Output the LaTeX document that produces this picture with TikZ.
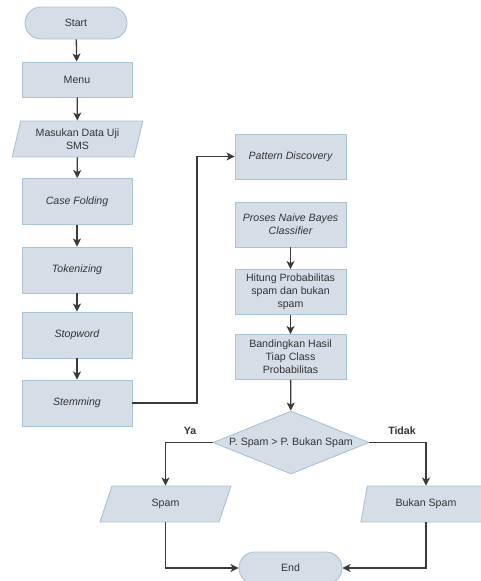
\documentclass[tikz,border=0pt]{standalone}
\usepackage{fontspec}
\setmainfont{Liberation Sans}
\usetikzlibrary{shapes.geometric,shapes.misc,arrows.meta}
\definecolor{boxfill}{HTML}{D5DEE7}
\definecolor{boxline}{HTML}{A9C2D6}
\definecolor{txt}{HTML}{333333}
\definecolor{wire}{HTML}{3A3A3A}
\begin{document}
\begin{tikzpicture}[x=1pt,y=-1pt,
  every node/.style={font=\fontsize{10.6}{13}\selectfont, text=txt, align=center, inner sep=1pt},
  base/.style={draw=boxline, fill=boxfill, line width=0.9pt},
  term/.style={base, rounded rectangle, minimum width=104, minimum height=32},
  proc/.style={base, rectangle, minimum width=110, minimum height=46},
  rproc/.style={base, rectangle, minimum width=111, minimum height=45},
  iobox/.style={base, trapezium, trapezium left angle=74, trapezium right angle=106, trapezium stretches=true, minimum width=131, minimum height=36},
  decision/.style={base, diamond, minimum width=156, minimum height=63, inner sep=0pt},
  flow/.style={draw=wire, line width=1.3pt, -{Stealth[length=8pt,width=8pt,inset=2pt]}},
  lbl/.style={font=\fontsize{10.6}{13}\selectfont\bfseries}
]
\useasboundingbox (0,0) rectangle (481,581);
\node[term] (start) at (76,23) {Start};
\node[proc, minimum height=35] (menu) at (77,79.5) {Menu};
\node[iobox] (input) at (77.5,139) {Masukan Data Uji\\SMS};
\node[proc] (cf) at (77,201.5) {\itshape Case Folding};
\node[proc] (tok) at (77,270) {\itshape Tokenizing};
\node[proc] (stop) at (77,335) {\itshape Stopword};
\node[proc] (stem) at (77,403) {\itshape Stemming};
\node[rproc] (pat) at (290.5,156.5) {\itshape Pattern Discovery};
\node[rproc] (nb) at (290.5,224.5) {\itshape Proses Naive Bayes\\\itshape Classifier};
\node[rproc] (hit) at (290.5,292) {Hitung Probabilitas\\spam dan bukan\\spam};
\node[rproc] (band) at (290.5,357) {Bandingkan Hasil\\Tiap Class\\Probabilitas};
\node[decision, label={center:P. Spam > P. Bukan Spam}] (dec) at (291,442.5) {};
\node[iobox] (spam) at (165.5,504) {Spam};
\node[iobox] (bukan) at (426,504) {Bukan Spam};
\node[term, minimum width=105] (end) at (290.5,568) {End};
\coordinate (turn) at (197,403);

\draw[flow] (start) -- (menu);
\draw[flow] (menu) -- (input);
\draw[flow] (input) -- (cf);
\draw[flow] (cf) -- (tok);
\draw[flow] (tok) -- (stop);
\draw[flow] (stop) -- (stem);
\draw[flow] (stem.east) -- (turn) |- (pat.west);
\draw[flow] (nb) -- (hit);
\draw[flow] (hit) -- (band);
\draw[flow] (band) -- (dec);
\draw[flow] (dec.west) -| (spam.north);
\draw[flow] (dec.east) -| (bukan.north);
\node[lbl] (ya) at (190,431) {Ya};
\node[lbl] (tidak) at (402,431) {Tidak};
\draw[flow] (spam.south) |- (end.west);
\draw[flow] (bukan.south) |- (end.east);
\end{tikzpicture}
\end{document}
